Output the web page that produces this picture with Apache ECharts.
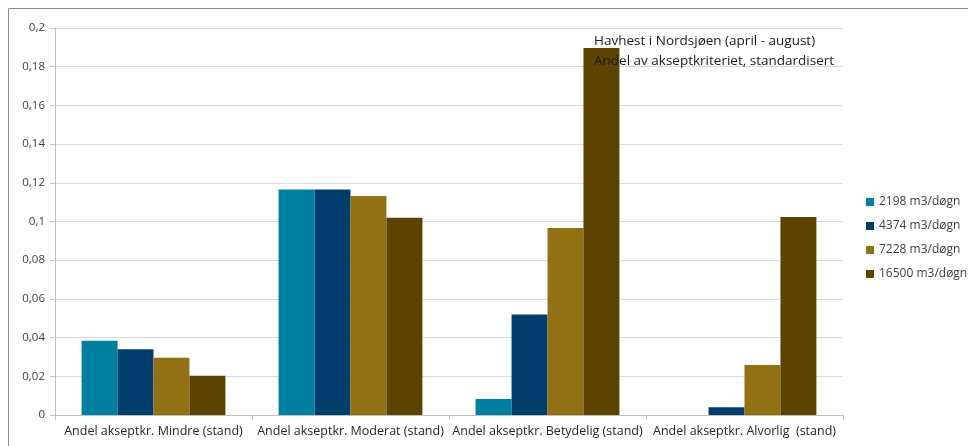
<!DOCTYPE html>
<html><head><meta charset="utf-8">
<script src="https://cdn.jsdelivr.net/npm/echarts@6/dist/echarts.min.js"></script>
<style>html,body{margin:0;padding:0;background:#fff}#c{width:968px;height:446px}</style>
</head><body><div id="c"></div>
<script>
const categories = ['Andel akseptkr. Mindre (stand)','Andel akseptkr. Moderat (stand)','Andel akseptkr. Betydelig (stand)','Andel akseptkr. Alvorlig  (stand)'];
const seriesNames = ['2198 m3/døgn','4374 m3/døgn','7228 m3/døgn','16500 m3/døgn'];
const s2198 = [0.0384, 0.1166, 0.0083, 0];
const s4374 = [0.034, 0.1166, 0.052, 0.004];
const s7228 = [0.0296, 0.1132, 0.0966, 0.0258];
const s16500 = [0.0203, 0.102, 0.1897, 0.1023];
const titleLines = ['Havhest i Nordsjøen (april - august)','Andel av akseptkriteriet, standardisert'];
const colors = ['#0080A0','#003F6B','#927114','#5C4300'];
const allData = [s2198, s4374, s7228, s16500];
const font = 'Open Sans';
const chart = echarts.init(document.getElementById('c'));
chart.setOption({
  animation:false,
  color:colors,
  graphic:[{type:'rect',shape:{x:8.5,y:8.5,width:1000,height:500},style:{fill:'none',stroke:'#8c8c8c',lineWidth:1},z:-10}],
  title:{text:titleLines.join('\n'),left:589,top:26,padding:5,textStyle:{fontFamily:font,fontSize:13.5,fontWeight:'normal',color:'#1a1a1a',lineHeight:20}},
  legend:{orient:'vertical',left:861,top:189,itemWidth:8,itemHeight:8,itemGap:8,icon:'rect',
    textStyle:{fontFamily:font,fontSize:12,color:'#404040',lineHeight:16},data:seriesNames},
  grid:{left:55,top:28,width:788,height:387,containLabel:false},
  xAxis:{type:'category',data:categories,
    axisLine:{lineStyle:{color:'#bfbfbf'}},
    axisTick:{show:true,length:5,lineStyle:{color:'#bfbfbf'}},
    axisLabel:{fontFamily:font,fontSize:12.5,color:'#262626',margin:10,interval:0}},
  yAxis:{type:'value',min:0,max:0.2,interval:0.02,
    axisLine:{show:true,lineStyle:{color:'#bfbfbf'}},
    axisTick:{show:true,length:5,lineStyle:{color:'#bfbfbf'}},
    splitLine:{lineStyle:{color:'#d9d9d9'}},
    axisLabel:{fontFamily:font,fontSize:11.5,color:'#404040',margin:10,formatter:v=>String(+v.toFixed(2)).replace('.',',')}},
  series:allData.map((d,i)=>({name:seriesNames[i],type:'bar',data:d,barGap:'0%',barCategoryGap:'27%',z:1}))
});
</script></body></html>
